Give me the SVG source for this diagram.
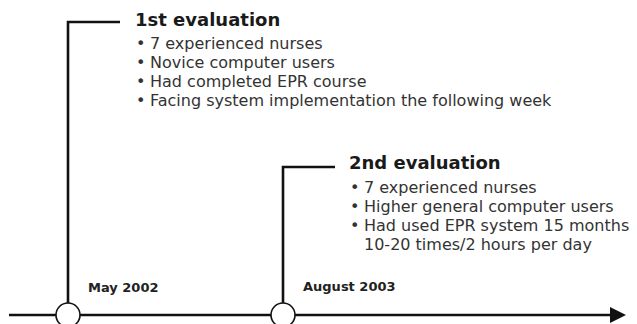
<svg xmlns="http://www.w3.org/2000/svg" width="637" height="324" viewBox="0 0 637 324">
<style>
.ln{stroke:#111;stroke-width:2.6;fill:none}
.title{font-family:"DejaVu Sans",Verdana,sans-serif;font-weight:bold;font-size:18px;fill:#1a1a1a}
.item{font-family:"DejaVu Sans",Verdana,sans-serif;font-size:16px;fill:#333}
.date{font-family:"DejaVu Sans",Verdana,sans-serif;font-weight:bold;font-size:13px;fill:#222}
.node{fill:#fff;stroke:#111;stroke-width:1.6}
</style>
<g id="connectors">
<line class="ln" x1="9" y1="315" x2="612" y2="315"/>
<polygon points="610,307 626,315 610,323" fill="#111"/>
<polyline class="ln" points="120,22 68,22 68,303"/>
<polyline class="ln" points="335,167 283,167 283,303"/>
</g>
<g id="milestone1">
<circle class="node" cx="68" cy="315" r="12"/>
<text class="date" x="88" y="292">May 2002</text>
</g>
<g id="milestone2">
<circle class="node" cx="283" cy="315" r="12"/>
<text class="date" x="303" y="291">August 2003</text>
</g>
<g id="eval1">
<text class="title" x="135" y="26">1st evaluation</text>
<text class="item" x="136" y="49">•</text><text class="item" x="150" y="49">7 experienced nurses</text>
<text class="item" x="136" y="68">•</text><text class="item" x="150" y="68">Novice computer users</text>
<text class="item" x="136" y="87">•</text><text class="item" x="150" y="87">Had completed EPR course</text>
<text class="item" x="136" y="106">•</text><text class="item" x="150" y="106">Facing system implementation the following week</text>
</g>
<g id="eval2">
<text class="title" x="349" y="169">2nd evaluation</text>
<text class="item" x="350" y="193">•</text><text class="item" x="364" y="193">7 experienced nurses</text>
<text class="item" x="350" y="212">•</text><text class="item" x="364" y="212">Higher general computer users</text>
<text class="item" x="350" y="231">•</text><text class="item" x="364" y="231">Had used EPR system 15 months</text>
<text class="item" x="364" y="250">10-20 times/2 hours per day</text>
</g>
</svg>
